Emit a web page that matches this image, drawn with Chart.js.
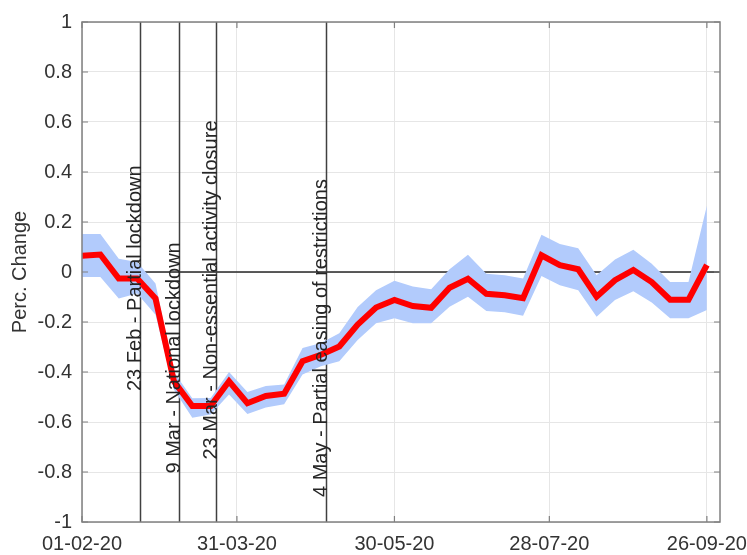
<!DOCTYPE html>
<html>
<head>
<meta charset="utf-8">
<script src="https://cdn.jsdelivr.net/npm/chart.js@4/dist/chart.umd.min.js"></script>
<style>
  body { margin: 0; background: #fff; }
</style>
</head>
<body>
<canvas id="chart1" width="747" height="555"></canvas>
<script>
// weekly observations, day 0 = 01-02-20
const weekDays = [0, 7, 14, 21, 28, 35, 42, 49, 56, 63, 70, 77, 84, 91, 98, 105, 112,
  119, 126, 133, 140, 147, 154, 161, 168, 175, 182, 189, 196, 203, 210, 217, 224, 231, 238];

const midValues = [0.065, 0.07, -0.026, -0.026, -0.106, -0.437, -0.536, -0.536, -0.437, -0.525,
  -0.496, -0.487, -0.357, -0.331, -0.298, -0.21, -0.142, -0.112, -0.136, -0.143,
  -0.063, -0.027, -0.087, -0.093, -0.105, 0.067, 0.027, 0.011, -0.099, -0.033,
  0.008, -0.04, -0.111, -0.111, 0.028];

const upperValues = [0.152, 0.152, 0.053, 0.04, -0.046, -0.40, -0.505, -0.504, -0.40, -0.48,
  -0.456, -0.45, -0.304, -0.284, -0.245, -0.14, -0.073, -0.035, -0.058, -0.069,
  0.011, 0.069, -0.007, -0.013, -0.026, 0.149, 0.112, 0.095, -0.013, 0.05,
  0.089, 0.033, -0.04, -0.04, 0.265];

const lowerValues = [-0.02, -0.02, -0.106, -0.086, -0.171, -0.47, -0.583, -0.57, -0.49, -0.568,
  -0.542, -0.529, -0.41, -0.377, -0.357, -0.272, -0.205, -0.185, -0.205, -0.205,
  -0.139, -0.099, -0.156, -0.161, -0.175, -0.016, -0.053, -0.073, -0.179, -0.112,
  -0.077, -0.122, -0.185, -0.185, -0.152];

const tickDays = [0, 59, 119, 178, 238];
const tickLabels = ["01-02-20", "31-03-20", "30-05-20", "28-07-20", "26-09-20"];

const eventDays = [22, 37, 51, 93];
const eventLabels = [
  "23 Feb - Partial lockdown",
  "9 Mar - National lockdown",
  "23 Mar - Non-essential activity closure",
  "4 May - Partial easing of restrictions"
];
const eventLabelStart = [-0.476, -0.806, -0.75, -0.9];

const FONT = "'Liberation Sans', Arial, sans-serif";
const TEXT = "#333333";

const toPoints = vals => weekDays.map((d, i) => ({ x: d, y: vals[i] }));

const matlabAxes = {
  id: "matlabAxes",
  beforeDatasetsDraw(chart) {
    const { ctx, chartArea: a, scales: { x, y } } = chart;
    ctx.save();
    // zero line
    const y0 = y.getPixelForValue(0);
    ctx.strokeStyle = "#262626";
    ctx.lineWidth = 1.5;
    ctx.beginPath();
    ctx.moveTo(a.left, y0);
    ctx.lineTo(a.right, y0);
    ctx.stroke();
    // event lines
    ctx.strokeStyle = "#404040";
    ctx.lineWidth = 1.5;
    eventDays.forEach(d => {
      const px = Math.round(x.getPixelForValue(d)) + 0.5;
      ctx.beginPath();
      ctx.moveTo(px, a.top);
      ctx.lineTo(px, a.bottom);
      ctx.stroke();
    });
    ctx.restore();
  },
  afterDatasetsDraw(chart) {
    const { ctx, chartArea: a, scales: { x, y } } = chart;
    ctx.save();
    // event labels, rotated
    ctx.fillStyle = "#262626";
    ctx.font = "20px " + FONT;
    ctx.textAlign = "left";
    ctx.textBaseline = "alphabetic";
    eventDays.forEach((d, i) => {
      ctx.save();
      ctx.translate(x.getPixelForValue(d) + 1, y.getPixelForValue(eventLabelStart[i]));
      ctx.rotate(-Math.PI / 2);
      ctx.fillText(eventLabels[i], 0, 0);
      ctx.restore();
    });
    // box + inward ticks
    ctx.strokeStyle = "#808080";
    ctx.lineWidth = 1.5;
    ctx.strokeRect(a.left, a.top, a.right - a.left, a.bottom - a.top);
    ctx.lineWidth = 1.2;
    ctx.beginPath();
    tickDays.forEach(d => {
      const px = x.getPixelForValue(d);
      ctx.moveTo(px, a.bottom); ctx.lineTo(px, a.bottom - 6);
      ctx.moveTo(px, a.top); ctx.lineTo(px, a.top + 6);
    });
    y.ticks.forEach(t => {
      const py = y.getPixelForValue(t.value);
      ctx.moveTo(a.left, py); ctx.lineTo(a.left + 6, py);
      ctx.moveTo(a.right, py); ctx.lineTo(a.right - 6, py);
    });
    ctx.stroke();
    ctx.restore();
  }
};

document.addEventListener("DOMContentLoaded", function () {
  const ctx = document.getElementById("chart1").getContext("2d");
  new Chart(ctx, {
    type: "line",
    data: {
      datasets: [
        {
          label: "Perc. Change",
          data: toPoints(midValues),
          borderColor: "#ff0000",
          borderWidth: 6,
          pointRadius: 0,
          fill: false,
          tension: 0
        },
        {
          label: "upper",
          data: toPoints(upperValues),
          borderColor: "rgba(0,0,0,0)",
          borderWidth: 0,
          pointRadius: 0,
          backgroundColor: "rgb(178,203,252)",
          fill: "+1"
        },
        {
          label: "lower",
          data: toPoints(lowerValues),
          borderColor: "rgba(0,0,0,0)",
          borderWidth: 0,
          pointRadius: 0,
          fill: false
        }
      ]
    },
    options: {
      responsive: false,
      animation: false,
      layout: { padding: { left: 0, right: 27, top: 18, bottom: 0 } },
      plugins: {
        legend: { display: false },
        tooltip: { enabled: false }
      },
      scales: {
        x: {
          type: "linear",
          min: 0,
          max: 243,
          afterBuildTicks: s => { s.ticks = tickDays.map(v => ({ value: v })); },
          afterFit: s => { s.height = 33; s.paddingLeft = 0; s.paddingRight = 0; },
          ticks: {
            autoSkip: false,
            maxRotation: 0,
            minRotation: 0,
            padding: 10,
            color: TEXT,
            font: { family: FONT, size: 20 },
            callback: v => tickLabels[tickDays.indexOf(v)]
          },
          grid: { color: "#e6e6e6", drawTicks: false },
          border: { display: false }
        },
        y: {
          min: -1,
          max: 1,
          afterFit: s => { s.width = 82; },
          ticks: {
            stepSize: 0.2,
            padding: 10,
            color: TEXT,
            font: { family: FONT, size: 20 },
            callback: v => String(Math.round(v * 10) / 10)
          },
          title: {
            display: true,
            text: "Perc. Change",
            color: TEXT,
            font: { family: FONT, size: 20 },
            padding: { top: 8, bottom: 0 }
          },
          grid: { color: "#e6e6e6", drawTicks: false },
          border: { display: false }
        }
      }
    },
    plugins: [matlabAxes]
  });
});
</script>
</body>
</html>
